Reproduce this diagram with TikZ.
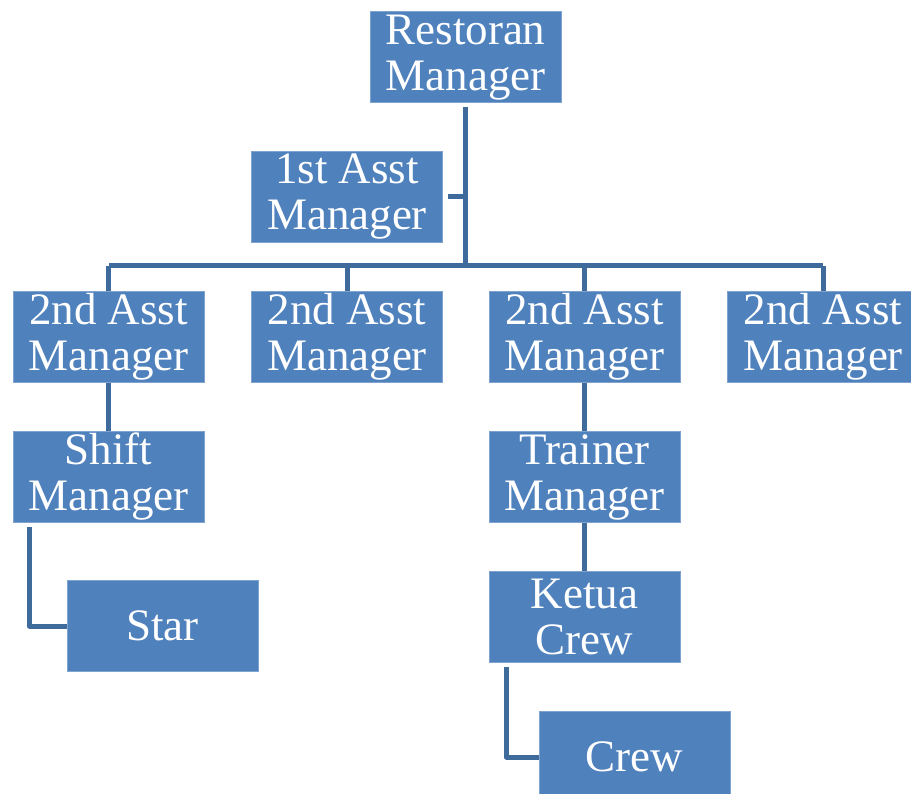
\documentclass[tikz,border=0pt]{standalone}
\usepackage{fontspec}
\setmainfont{Liberation Serif}
\newfontfamily\boxfont{Liberation Serif}
\usetikzlibrary{calc}
\definecolor{boxfill}{HTML}{4F81BD}
\definecolor{boxedge}{HTML}{7FA3D1}
\definecolor{linkcol}{HTML}{3F6A9C}
\tikzset{
  orgbox/.style={fill=boxfill, draw=boxedge, line width=1pt, minimum width=191pt, minimum height=91pt,
    inner sep=0pt, align=center, text=white, font=\boxfont\fontsize{45}{46}\selectfont},
  link/.style={draw=linkcol, line width=5pt, line join=round}
}
\begin{document}
\begin{tikzpicture}[x=1pt,y=-1pt]
\useasboundingbox (0,0) rectangle (911,794);
\clip (0,0) rectangle (911,794);
\node[orgbox] (rm) at (465.5,57.5) {Restoran\\Manager};
\node[orgbox] (a1) at (347,197) {1st Asst\\Manager};
\node[orgbox] (s1) at (108.5,337) {2nd Asst\\Manager};
\node[orgbox] (s2) at (347,337) {2nd Asst\\Manager};
\node[orgbox] (s3) at (584.5,337) {2nd Asst\\Manager};
\node[orgbox] (s4) at (823,337) {2nd Asst\\Manager};
\node[orgbox] (sm) at (108.5,477) {Shift\\Manager};
\node[orgbox] (star) at (162.5,626) {Star};
\node[orgbox] (tm) at (584.5,477) {Trainer\\Manager};
\node[orgbox] (kc) at (584.5,617) {Ketua\\Crew};
\node[orgbox] (crew) at (634.5,757) {Crew};
\coordinate (j) at (465.5,266);
\path[link] ($(rm.south)+(0,4)$) -- (j);
\path[link] ($(a1.east)+(5,0)$) -- ($(a1.east -| j)$);
\path[link] (s1.north |- j) -- (s4.north |- j);
\foreach \n in {s1,s2,s3,s4} \path[link] (\n.north |- j) -- (\n.north);
\path[link] (s1.south) -- (sm.north);
\path[link] (s3.south) -- (tm.north);
\path[link] (tm.south) -- (kc.north);
\path[link] ($(sm.south west)+(17,4)$) |- (star.west);
\path[link] ($(kc.south west)+(18,4)$) |- (crew.west);
\end{tikzpicture}
\end{document}
